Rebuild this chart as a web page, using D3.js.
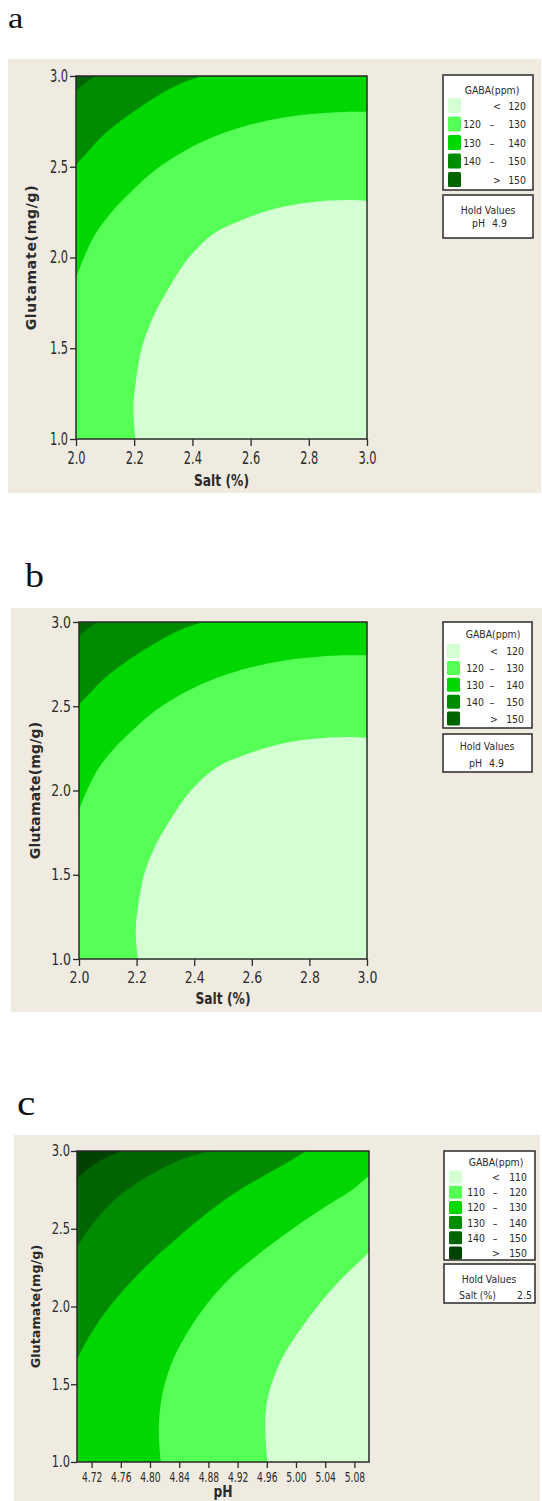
<!DOCTYPE html>
<html>
<head>
<meta charset="utf-8">
<script src="https://cdn.jsdelivr.net/npm/d3@7"></script>
<style>
  body { margin: 0; background: #fff; }
  svg { display: block; }
</style>
</head>
<body>
<svg id="fig" width="542" height="1501"></svg>
<script>
// ==========
// CHART DATA
// ==========

// tick values
const saltTicks = [2.0, 2.2, 2.4, 2.6, 2.8, 3.0];
const phTicks = [4.72, 4.76, 4.80, 4.84, 4.88, 4.92, 4.96, 5.00, 5.04, 5.08];
const glutTicks = [1.0, 1.5, 2.0, 2.5, 3.0];

// GABA class breaks (ppm)
const breaksAB = [120, 130, 140, 150];
const breaksC = [110, 120, 130, 140, 150];

// hold values
const holdAB = ["pH", "4.9"];
const holdC = ["Salt (%)", "2.5"];

// contour boundaries, [x, glutamate]
// panels a and b: x = salt (%)
const abGaba120 = [[2.204, 1.000], [2.197, 1.180], [2.208, 1.345], [2.226, 1.501], [2.261, 1.657],
  [2.309, 1.804], [2.386, 1.996], [2.475, 2.134], [2.570, 2.207], [2.689, 2.272],
  [2.808, 2.305], [2.926, 2.317], [3.000, 2.312]];
const abGaba130 = [[2.000, 1.886], [2.024, 1.987], [2.065, 2.125], [2.119, 2.244], [2.190, 2.363],
  [2.273, 2.483], [2.368, 2.583], [2.475, 2.666], [2.594, 2.730], [2.713, 2.772],
  [2.831, 2.794], [2.926, 2.802], [3.000, 2.802]];
const abGaba140 = [[2.000, 2.510], [2.036, 2.574], [2.083, 2.657], [2.143, 2.739], [2.214, 2.822],
  [2.285, 2.895], [2.356, 2.956], [2.431, 3.000]];
const abGaba150 = [[2.000, 2.919], [2.030, 2.960], [2.065, 3.000]];

// panel c: x = pH
const cGaba110 = [[4.961, 1.000], [4.958, 1.178], [4.959, 1.350], [4.968, 1.522], [4.984, 1.694],
  [5.008, 1.866], [5.034, 2.027], [5.062, 2.177], [5.086, 2.285], [5.100, 2.349]];
const cGaba120 = [[4.815, 1.000], [4.812, 1.200], [4.816, 1.415], [4.829, 1.629], [4.850, 1.823],
  [4.878, 2.016], [4.911, 2.188], [4.949, 2.338], [4.992, 2.489], [5.039, 2.639],
  [5.076, 2.747], [5.100, 2.843]];
const cGaba130 = [[4.700, 1.662], [4.716, 1.801], [4.737, 1.952], [4.765, 2.113], [4.798, 2.274],
  [4.836, 2.435], [4.874, 2.585], [4.911, 2.714], [4.949, 2.822], [4.982, 2.908], [5.014, 3.000]];
const cGaba140 = [[4.700, 2.381], [4.718, 2.510], [4.746, 2.661], [4.784, 2.800], [4.822, 2.901],
  [4.855, 2.966], [4.883, 3.000]];
const cGaba150 = [[4.700, 2.822], [4.716, 2.886], [4.737, 2.951], [4.762, 3.000]];

// ======
// STYLES
// ======

const greensAB = ["#d3ffd3", "#55ff55", "#00d600", "#008c00", "#006400"];
const greensC = ["#d3ffd3", "#55ff55", "#00d600", "#008c00", "#006400", "#004200"];
const beige = "#f0ebe1";
const ink = "#2a2a2a";
const sans = "'DejaVu Sans', Verdana, sans-serif";
const serif = "'Liberation Serif', 'Times New Roman', serif";

const fmt1 = d3.format(".1f");
const fmt2 = d3.format(".2f");

// layout for each panel
const panels = [
  {
    letter: "a", letterX: 8, letterY: 28, letterSize: 30,
    bg: [8, 59, 541, 493], plot: [76, 76, 367, 439],
    xDomain: [2, 3], xTicks: saltTicks, xFmt: fmt1, xTitle: "Salt (%)", xTitleY: 486,
    xTick: { font: 17, sx: 0.67, len: 7, pad: 6 },
    yTick: { font: 17, sx: 0.67, len: 6, pad: 2 },
    yTitleX: 36, yTitleSize: 14, yTitleLS: 0.7,
    curves: [abGaba120, abGaba130, abGaba140, abGaba150], colors: greensAB, breaks: breaksAB,
    legend: { x0: 443, x1: 533, y0: 75, y1: 190, titleX: 492, titleY: 94, row0: 105.5, step: 18.5,
      swX: 448, swW: 13, swH: 15, sym: 497, dash: 492, lo: 481, hi: 526 },
    hold: { y0: 195, y1: 238, cx: 488, t1: 214, t2: 227, labelRight: 485, valueLeft: 492, vals: holdAB }
  },
  {
    letter: "b", letterX: 25, letterY: 587, letterSize: 33,
    bg: [11, 608, 542, 1012], plot: [79, 622, 367, 959],
    xDomain: [2, 3], xTicks: saltTicks, xFmt: fmt1, xTitle: "Salt (%)", xTitleY: 1004,
    xTick: { font: 16, sx: 0.78, len: 7, pad: 6 },
    yTick: { font: 16, sx: 0.78, len: 6, pad: 2 },
    yTitleX: 40, yTitleSize: 14, yTitleLS: 0.15,
    curves: [abGaba120, abGaba130, abGaba140, abGaba150], colors: greensAB, breaks: breaksAB,
    legend: { x0: 443, x1: 532, y0: 622, y1: 728, titleX: 493, titleY: 638, row0: 651, step: 16.9,
      swX: 447, swW: 13, swH: 14, sym: 494, dash: 492, lo: 484, hi: 524 },
    hold: { y0: 734, y1: 772, cx: 487, t1: 750, t2: 767, labelRight: 482, valueLeft: 489, vals: holdAB }
  },
  {
    letter: "c", letterX: 17, letterY: 1115, letterSize: 36,
    bg: [14, 1135, 540, 1501], plot: [77, 1151, 369, 1462],
    xDomain: [4.70, 5.10], xTicks: phTicks, xFmt: fmt2, xTitle: "pH", xTitleY: 1497,
    xTick: { font: 13.5, sx: 0.68, len: 6, pad: 4 },
    yTick: { font: 15.5, sx: 0.74, len: 6, pad: 1 },
    yTitleX: 40, yTitleSize: 12.8, yTitleLS: 0,
    curves: [cGaba110, cGaba120, cGaba130, cGaba140, cGaba150], colors: greensC, breaks: breaksC,
    legend: { x0: 444, x1: 535, y0: 1151, y1: 1260, titleX: 496, titleY: 1166, row0: 1177, step: 15.2,
      swX: 449, swW: 13, swH: 13, sym: 496, dash: 495, lo: 485, hi: 527 },
    hold: { y0: 1264, y1: 1303, cx: 489, t1: 1283, t2: 1299, labelRight: 496, valueLeft: 517, vals: holdC }
  }
];

const svg = d3.select("#fig");

// =======
// HELPERS
// =======

// squeezed text, as in the original screenshot
function label(g, x, y, s, o) {
  o = o || {};
  return g.append("text")
    .attr("transform", `translate(${x},${y}) scale(${o.sx || 0.85},1)`)
    .attr("text-anchor", o.anchor || "start")
    .attr("font-family", sans)
    .attr("font-size", o.size || 11)
    .attr("font-weight", o.weight || "normal")
    .attr("fill", ink)
    .text(s);
}

// region above a contour = curve + walk round the top-left corner
function bandPath(pts, x, y, xd, yd) {
  const line = d3.line()
    .x(d => x(d[0]))
    .y(d => y(d[1]))
    .curve(d3.curveCatmullRom.alpha(0.5));
  const first = pts[0];
  const last = pts[pts.length - 1];
  const corners = [];
  if (last[0] >= xd[1]) corners.push([xd[1], yd[1]]);
  corners.push([xd[0], yd[1]]);
  if (first[1] <= yd[0]) corners.push([xd[0], yd[0]]);
  return line(pts) + corners.map(c => "L" + x(c[0]) + "," + y(c[1])).join("") + "Z";
}

function legendRows(breaks) {
  const rows = [{ sym: "<", hi: breaks[0] }];
  for (let i = 0; i < breaks.length - 1; i++) rows.push({ lo: breaks[i], hi: breaks[i + 1] });
  rows.push({ sym: ">", hi: breaks[breaks.length - 1] });
  return rows;
}

// ==========
// DRAW PANEL
// ==========

function drawPanel(cfg, idx) {
  const g = svg.append("g");
  const p = cfg.plot;
  const yd = [1, 3];

  g.append("rect")
    .attr("x", cfg.bg[0]).attr("y", cfg.bg[1])
    .attr("width", cfg.bg[2] - cfg.bg[0]).attr("height", cfg.bg[3] - cfg.bg[1])
    .attr("fill", beige);

  g.append("text")
    .attr("transform", `translate(${cfg.letterX},${cfg.letterY}) scale(1.15,1)`)
    .attr("font-family", serif)
    .attr("font-size", cfg.letterSize)
    .attr("fill", "#111")
    .text(cfg.letter);

  const x = d3.scaleLinear().domain(cfg.xDomain).range([p[0], p[2]]);
  const y = d3.scaleLinear().domain(yd).range([p[3], p[1]]);

  const clipId = "clip-" + idx;
  g.append("clipPath").attr("id", clipId)
    .append("rect")
    .attr("x", p[0]).attr("y", p[1])
    .attr("width", p[2] - p[0]).attr("height", p[3] - p[1]);

  const plot = g.append("g").attr("clip-path", `url(#${clipId})`);
  plot.append("rect")
    .attr("x", x(cfg.xDomain[0])).attr("y", y(yd[1]))
    .attr("width", x(cfg.xDomain[1]) - x(cfg.xDomain[0]))
    .attr("height", y(yd[0]) - y(yd[1]))
    .attr("fill", cfg.colors[0]);

  plot.selectAll(".band")
    .data(cfg.curves)
    .enter()
    .append("path")
    .attr("class", "band")
    .attr("d", d => bandPath(d, x, y, cfg.xDomain, yd))
    .attr("fill", (d, i) => cfg.colors[i + 1]);

  // frame
  g.append("rect")
    .attr("x", p[0]).attr("y", p[1])
    .attr("width", p[2] - p[0]).attr("height", p[3] - p[1])
    .attr("fill", "none").attr("stroke", ink).attr("stroke-width", 1.5);

  // x axis
  const ax = g.append("g")
    .attr("transform", `translate(0,${p[3]})`)
    .call(d3.axisBottom(x).tickValues(cfg.xTicks).tickFormat(cfg.xFmt)
      .tickSize(cfg.xTick.len).tickPadding(cfg.xTick.pad).tickSizeOuter(0));
  ax.attr("font-family", sans).attr("font-size", cfg.xTick.font);
  ax.select(".domain").remove();
  ax.selectAll("line").attr("stroke", ink).attr("stroke-width", 1.3);
  ax.selectAll("text").attr("fill", ink).attr("transform", `scale(${cfg.xTick.sx},1)`);

  // y axis
  const ay = g.append("g")
    .attr("transform", `translate(${p[0]},0)`)
    .call(d3.axisLeft(y).tickValues(glutTicks).tickFormat(fmt1)
      .tickSize(cfg.yTick.len).tickPadding(cfg.yTick.pad).tickSizeOuter(0));
  ay.attr("font-family", sans).attr("font-size", cfg.yTick.font);
  ay.select(".domain").remove();
  ay.selectAll("line").attr("stroke", ink).attr("stroke-width", 1.3);
  ay.selectAll("text")
    .attr("fill", ink)
    .attr("x", -(cfg.yTick.len + cfg.yTick.pad) / cfg.yTick.sx)
    .attr("transform", `scale(${cfg.yTick.sx},1)`);

  // axis titles
  label(g, (p[0] + p[2]) / 2, cfg.xTitleY, cfg.xTitle,
    { anchor: "middle", size: 15, weight: "bold", sx: 0.82 });

  g.append("text")
    .attr("transform", `translate(${cfg.yTitleX},${(p[1] + p[3]) / 2}) rotate(-90)`)
    .attr("text-anchor", "middle")
    .attr("font-family", sans)
    .attr("font-size", cfg.yTitleSize)
    .attr("font-weight", "bold")
    .attr("letter-spacing", cfg.yTitleLS)
    .attr("fill", ink)
    .text("Glutamate(mg/g)");

  // legend
  const L = cfg.legend;
  g.append("rect")
    .attr("x", L.x0).attr("y", L.y0)
    .attr("width", L.x1 - L.x0).attr("height", L.y1 - L.y0)
    .attr("fill", "#fff").attr("stroke", ink).attr("stroke-width", 1.5);
  label(g, L.titleX, L.titleY, "GABA(ppm)", { anchor: "middle" });

  legendRows(cfg.breaks).forEach((r, i) => {
    const cy = L.row0 + i * L.step;
    g.append("rect")
      .attr("x", L.swX).attr("y", cy - L.swH / 2)
      .attr("width", L.swW).attr("height", L.swH)
      .attr("rx", 1.5)
      .attr("fill", cfg.colors[i]);
    const base = cy + 4;
    if (r.sym) {
      label(g, L.sym, base, r.sym, { anchor: "middle" });
    } else {
      label(g, L.lo, base, r.lo, { anchor: "end" });
      label(g, L.dash, base, "\u2013", { anchor: "middle" });
    }
    label(g, L.hi, base, r.hi, { anchor: "end" });
  });

  const H = cfg.hold;
  g.append("rect")
    .attr("x", L.x0).attr("y", H.y0)
    .attr("width", L.x1 - L.x0).attr("height", H.y1 - H.y0)
    .attr("fill", "#fff").attr("stroke", ink).attr("stroke-width", 1.5);
  label(g, H.cx, H.t1, "Hold Values", { anchor: "middle" });
  label(g, H.labelRight, H.t2, H.vals[0], { anchor: "end" });
  label(g, H.valueLeft, H.t2, H.vals[1], { anchor: "start" });
}

panels.forEach(drawPanel);
</script>
</body>
</html>
